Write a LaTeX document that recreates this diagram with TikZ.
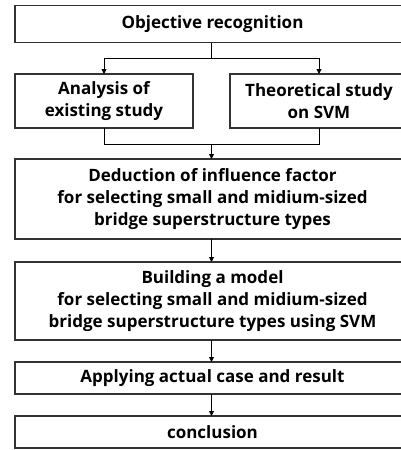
\documentclass[tikz,border=0pt]{standalone}
\usepackage{fontspec}
\setmainfont{Open Sans}
\usetikzlibrary{arrows.meta,positioning}

\begin{document}
\begin{tikzpicture}[
  x=1pt,y=-1pt,
  box/.style={draw=black!80, line width=1.3pt, align=center, font=\bfseries\fontsize{17}{21.7}\selectfont, inner sep=0pt, outer sep=0pt, minimum width=395pt},
  half/.style={box, minimum width=178pt, minimum height=54pt},
  arr/.style={-{Triangle[length=5pt,width=5pt]}, line width=0.9pt},
  lin/.style={line width=0.9pt}
]
\useasboundingbox (0,0) rectangle (400,450);
\node[box, minimum height=37pt] (obj) at (212.5,24) {Objective recognition};
\node[half] (ana) at (104,101) {Analysis of\\existing study};
\node[half] (theo) at (319,101) {Theoretical study\\on SVM};
\node[box, minimum height=80pt] (deduc) at (212.5,199) {Deduction of influence factor\\for selecting small and midium-sized\\bridge superstructure types};
\node[box, minimum height=78pt] (model) at (212.5,301) {Building a model\\for selecting small and midium-sized\\bridge superstructure types using SVM};
\node[box, minimum height=32pt] (apply) at (212.5,378) {Applying actual case and result};
\node[box, minimum height=32pt] (concl) at (212.5,432) {conclusion};
\coordinate (split) at (211.5,58);
\coordinate (merge) at (211.5,144);
\draw[lin] (obj.south -| split) -- (split);
\draw[arr] (split) -| (ana);
\draw[arr] (split) -| (theo);
\draw[lin] (ana) |- (merge);
\draw[lin] (theo) |- (merge);
\draw[arr] (merge) -- (merge |- deduc.north);
\draw[arr] (deduc.south -| split) -- (model.north -| split);
\draw[arr] (model.south -| split) -- (apply.north -| split);
\draw[arr] (apply.south -| split) -- (concl.north -| split);
\end{tikzpicture}
\end{document}
